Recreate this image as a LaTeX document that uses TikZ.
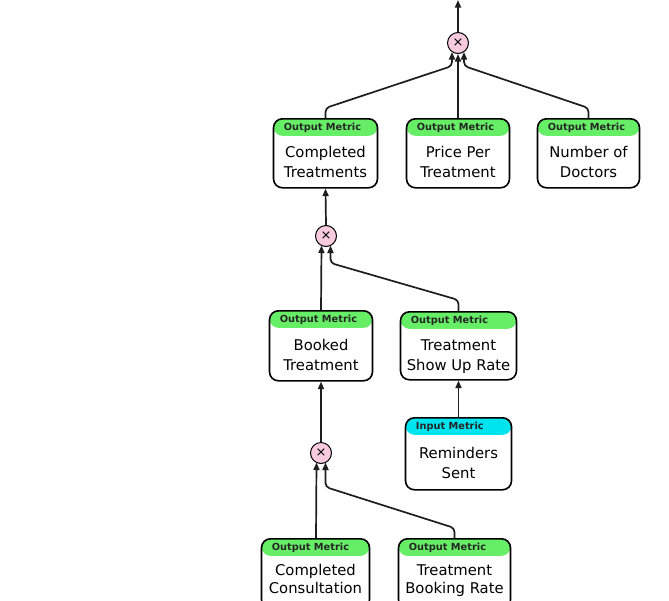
\documentclass[tikz,border=0pt]{standalone}
\usepackage{fontspec}
\setmainfont{DejaVu Sans}
\usetikzlibrary{arrows.meta}
\definecolor{hdrgreen}{RGB}{102,238,102}
\definecolor{hdrcyan}{RGB}{0,228,240}
\definecolor{oppink}{RGB}{247,202,222}
\definecolor{linegray}{RGB}{30,30,30}
\tikzset{
  mbox/.style={draw=black,line width=1.6pt,rounded corners=9pt,fill=white,inner sep=0pt},
  hdr/.style={anchor=west,inner sep=0pt,font=\fontsize{9.8}{11}\selectfont\bfseries,text=black!85},
  body/.style={align=center,inner sep=0pt,font=\fontsize{14.8}{20}\selectfont,
    execute at begin node={\strut},execute at end node={\strut}},
  tightbody/.style={body,font=\fontsize{14.8}{18}\selectfont},
  op/.style={circle,draw=black,line width=1pt,fill=oppink,minimum size=21pt,inner sep=0pt,font=\fontsize{13}{13}\selectfont},
  conn/.style={draw=linegray,line width=1.7pt,rounded corners=4pt,-{Triangle[length=7.5pt,width=6pt]}},
}
% name, cx, ytop, width, height, colour, header, body, body style/shift
\newcommand\metricnode[9]{%
  \node[mbox,anchor=north,minimum width=#4pt,minimum height=#5pt,
    path picture={\fill[#6] (path picture bounding box.north west) rectangle ([yshift=-17pt]path picture bounding box.north east);}]
    (#1) at (#2,#3) {};
  \node[hdr] (#1h) at ([xshift=11pt,yshift=-9.5pt]#1.north west) {#7};
  \node[#9] (#1b) at (#1.center) {#8};
}
\begin{document}
\begin{tikzpicture}[x=1pt,y=-1pt]
\useasboundingbox (0,0) rectangle (669,600);
\fill[white] (0,0) rectangle (669,600);

% operator circles
\node[op] (m1) at (458,43) {×};
\node[op] (m2) at (326,236) {×};
\node[op] (m3) at (321,453) {×};

% metric boxes
\metricnode{ct}{325.5}{118}{104}{69}{hdrgreen}{Output Metric}{Completed\\Treatments}{body,yshift=-12pt}
\metricnode{ppt}{458}{118}{103}{69}{hdrgreen}{Output Metric}{Price Per\\Treatment}{body,yshift=-12pt}
\metricnode{nd}{588.5}{118}{102}{69}{hdrgreen}{Output Metric}{Number of\\Doctors}{body,yshift=-12pt}
\metricnode{bt}{321}{310}{103}{70}{hdrgreen}{Output Metric}{Booked\\Treatment}{body,yshift=-12pt}
\metricnode{tsr}{458.5}{311}{116}{68}{hdrgreen}{Output Metric}{Treatment\\Show Up Rate}{body,yshift=-12pt}
\metricnode{rs}{458.5}{417}{106}{72}{hdrcyan}{Input Metric}{Reminders\\Sent}{body,yshift=-12pt}
\metricnode{cc}{315.5}{538}{108}{70}{hdrgreen}{Output Metric}{Completed\\Consultation}{tightbody,yshift=-7.5pt}
\metricnode{tbr}{454.5}{538}{112}{70}{hdrgreen}{Output Metric}{Treatment\\Booking Rate}{tightbody,yshift=-7.5pt}

\coordinate (topout) at (458,0);

% connectors
\draw[conn] (m1.north) -- (topout);
\draw[conn] (ct.north) -- ++(0,-10) -- (452,66) -- ([xshift=-6pt,yshift=-9pt]m1.center);
\draw[conn] (ppt.north) -- (m1.south);
\draw[conn] (nd.north) -- ++(0,-10) -- (464,66) -- ([xshift=6pt,yshift=-9pt]m1.center);

\draw[conn] (m2.north) -- (ct.south);
\draw[conn] (bt.north) -- ([xshift=-4.5pt,yshift=-9.5pt]m2.center);
\draw[conn] (tsr.north) -- ++(0,-11) -- (330.5,263) -- ([xshift=4.5pt,yshift=-9.5pt]m2.center);

\draw[conn] (rs.north) -- (tsr.south);
\draw[conn] (m3.north) -- (bt.south);
\draw[conn] ([xshift=0.5pt]cc.north) -- ([xshift=-4.5pt,yshift=-9.5pt]m3.center);
\draw[conn] (tbr.north) -- ++(0,-10) -- (325.5,487) -- ([xshift=4.5pt,yshift=-9.5pt]m3.center);
\end{tikzpicture}
\end{document}
